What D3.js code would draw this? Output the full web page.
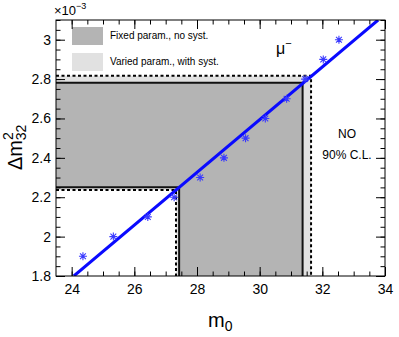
<!DOCTYPE html>
<html>
<head>
<meta charset="utf-8">
<script src="https://cdn.jsdelivr.net/npm/d3@7"></script>
<style>
body { margin: 0; background: #fff; }
text { font-family: "Liberation Sans", Arial, sans-serif; }
</style>
</head>
<body>
<div class="module"></div>
<script>
// measured points (m0, dm^2 x 1e-3)
const m0Pts = [24.36, 25.33, 26.43, 27.27, 28.1, 28.86, 29.55, 30.18, 30.86, 31.45, 32.03, 32.53];
const dmPts = [1.9, 2.0, 2.1, 2.2, 2.3, 2.4, 2.5, 2.6, 2.7, 2.8, 2.9, 3.0];
// straight fit line
const fitM0 = [24.07, 33.78];
const fitDm = [1.8, 3.1];
// contour corners: [low corner, high corner]
const fixedM0 = [27.43, 31.37];
const fixedDm = [2.251, 2.781];
const variedM0 = [27.33, 31.64];
const variedDm = [2.237, 2.817];

const xTicks = [24, 26, 28, 30, 32, 34];
const yTicks = [1.8, 2, 2.2, 2.4, 2.6, 2.8, 3];

drawChart(d3.select('.module').node());

function drawChart(rootDOM) {
	const W = 399;
	const H = 337;
	const L = 56, R = 385, T = 20, B = 276;

	const x = d3.scaleLinear().domain([23.5, 34]).range([L, R]);
	const y = d3.scaleLinear().domain([1.8, 3.1]).range([B, T]);

	const svg = d3.select(rootDOM)
		.append('svg')
		.attr('width', W)
		.attr('height', H);

	svg.append('clipPath').attr('id', 'clip')
		.append('rect')
		.attr('x', L).attr('y', T)
		.attr('width', R - L).attr('height', B - T);

	const plot = svg.append('g').attr('clip-path', 'url(#clip)');

	// region = box below high corner minus box below low corner
	function regionPath(m, d) {
		const pts = [
			[23.5, d[0]], [m[0], d[0]], [m[0], 1.8], [m[1], 1.8],
			[m[1], d[1]], [23.5, d[1]]
		];
		return d3.line().x(p => x(p[0])).y(p => y(p[1]))(pts) + 'Z';
	}
	function lowEdge(m, d) {
		return d3.line().x(p => x(p[0])).y(p => y(p[1]))([[23.5, d[0]], [m[0], d[0]], [m[0], 1.8]]);
	}
	function highEdge(m, d) {
		return d3.line().x(p => x(p[0])).y(p => y(p[1]))([[23.5, d[1]], [m[1], d[1]], [m[1], 1.8]]);
	}

	plot.append('path').attr('d', regionPath(variedM0, variedDm)).attr('fill', '#e1e1e1');
	plot.append('path').attr('d', regionPath(fixedM0, fixedDm)).attr('fill', '#b4b4b4');

	[lowEdge, highEdge].forEach(f => {
		plot.append('path').attr('d', f(variedM0, variedDm))
			.attr('fill', 'none').attr('stroke', '#000')
			.attr('stroke-width', 2).attr('stroke-dasharray', '3,2.5');
		plot.append('path').attr('d', f(fixedM0, fixedDm))
			.attr('fill', 'none').attr('stroke', '#111')
			.attr('stroke-width', 2);
	});

	// fit line
	plot.append('line')
		.attr('x1', x(fitM0[0])).attr('y1', y(fitDm[0]))
		.attr('x2', x(fitM0[1])).attr('y2', y(fitDm[1]))
		.attr('stroke', '#0a0aff').attr('stroke-width', 3);

	// asterisk markers
	const s = 4, d = 2.9;
	const star = `M${-s},0L${s},0M0,${-s}L0,${s}M${-d},${-d}L${d},${d}M${-d},${d}L${d},${-d}`;
	plot.selectAll('.pt')
		.data(m0Pts.map((m, i) => [m, dmPts[i]]))
		.enter().append('path')
		.attr('class', 'pt')
		.attr('transform', p => `translate(${x(p[0])},${y(p[1])})`)
		.attr('d', star)
		.attr('fill', 'none')
		.attr('stroke', '#3a3aff')
		.attr('stroke-width', 1.1);

	// legend
	const leg = [['Fixed param., no syst.', '#b4b4b4', 27], ['Varied param., with syst.', '#e1e1e1', 53]];
	leg.forEach(l => {
		svg.append('rect').attr('x', 72).attr('y', l[2]).attr('width', 31).attr('height', 18).attr('fill', l[1]);
		svg.append('text').attr('x', 110).attr('y', l[2] + 12).attr('font-size', 10).text(l[0]);
	});

	const mu = svg.append('text').attr('x', 276).attr('y', 54).attr('font-size', 16);
	mu.append('tspan').text('μ');
	mu.append('tspan').attr('dy', -7).attr('font-size', 11).text('−');

	svg.append('text').attr('x', 347).attr('y', 138).attr('font-size', 12)
		.attr('text-anchor', 'middle').text('NO');
	svg.append('text').attr('x', 347).attr('y', 159).attr('font-size', 12)
		.attr('text-anchor', 'middle').text('90% C.L.');

	// frame
	svg.append('rect').attr('x', L).attr('y', T).attr('width', R - L).attr('height', B - T)
		.attr('fill', 'none').attr('stroke', '#000').attr('stroke-width', 1);

	// axes with inward ticks
	const xMinor = d3.range(24, 34.01, 0.5);
	const yMinor = d3.range(1.8, 3.101, 0.05);

	function styleAxis(g) {
		g.select('.domain').remove();
		g.selectAll('line').attr('stroke', '#000');
		g.selectAll('text').attr('font-size', 14).attr('fill', '#000')
			.attr('font-family', '"Liberation Sans", Arial, sans-serif');
	}

	svg.append('g').attr('transform', `translate(0,${B})`)
		.call(d3.axisBottom(x).tickValues(xMinor).tickSize(-4.5).tickFormat(''))
		.call(styleAxis);
	svg.append('g').attr('transform', `translate(0,${B})`)
		.call(d3.axisBottom(x).tickValues(xTicks).tickSize(-9).tickPadding(8).tickFormat(d3.format('d')))
		.call(styleAxis);
	svg.append('g').attr('transform', `translate(0,${T})`)
		.call(d3.axisTop(x).tickValues(xMinor).tickSize(-4.5).tickFormat(''))
		.call(styleAxis);
	svg.append('g').attr('transform', `translate(0,${T})`)
		.call(d3.axisTop(x).tickValues(xTicks).tickSize(-9).tickFormat(''))
		.call(styleAxis);

	svg.append('g').attr('transform', `translate(${L},0)`)
		.call(d3.axisLeft(y).tickValues(yMinor).tickSize(-4.5).tickFormat(''))
		.call(styleAxis);
	svg.append('g').attr('transform', `translate(${L},0)`)
		.call(d3.axisLeft(y).tickValues(yTicks).tickSize(-9).tickPadding(5).tickFormat(d => d3.format('')(+d.toFixed(1))))
		.call(styleAxis);
	svg.append('g').attr('transform', `translate(${R},0)`)
		.call(d3.axisRight(y).tickValues(yMinor).tickSize(-4.5).tickFormat(''))
		.call(styleAxis);
	svg.append('g').attr('transform', `translate(${R},0)`)
		.call(d3.axisRight(y).tickValues(yTicks).tickSize(-9).tickFormat(''))
		.call(styleAxis);

	// exponent
	const ex = svg.append('text').attr('x', 54).attr('y', 15).attr('font-size', 13);
	ex.append('tspan').text('×10');
	ex.append('tspan').attr('dy', -6).attr('font-size', 9).text('−3');

	// axis titles
	const xt = svg.append('text').attr('x', 208).attr('y', 327).attr('font-size', 20);
	xt.append('tspan').text('m');
	xt.append('tspan').attr('dy', 4).attr('font-size', 14).text('0');

	const yt = svg.append('text').attr('transform', 'translate(22,170) rotate(-90)').attr('font-size', 20);
	yt.append('tspan').text('Δm');
	yt.append('tspan').attr('dy', -9).attr('font-size', 14).text('2');
	yt.append('tspan').attr('dx', -8).attr('dy', 13).attr('font-size', 14).text('32');
}
</script>
</body>
</html>
